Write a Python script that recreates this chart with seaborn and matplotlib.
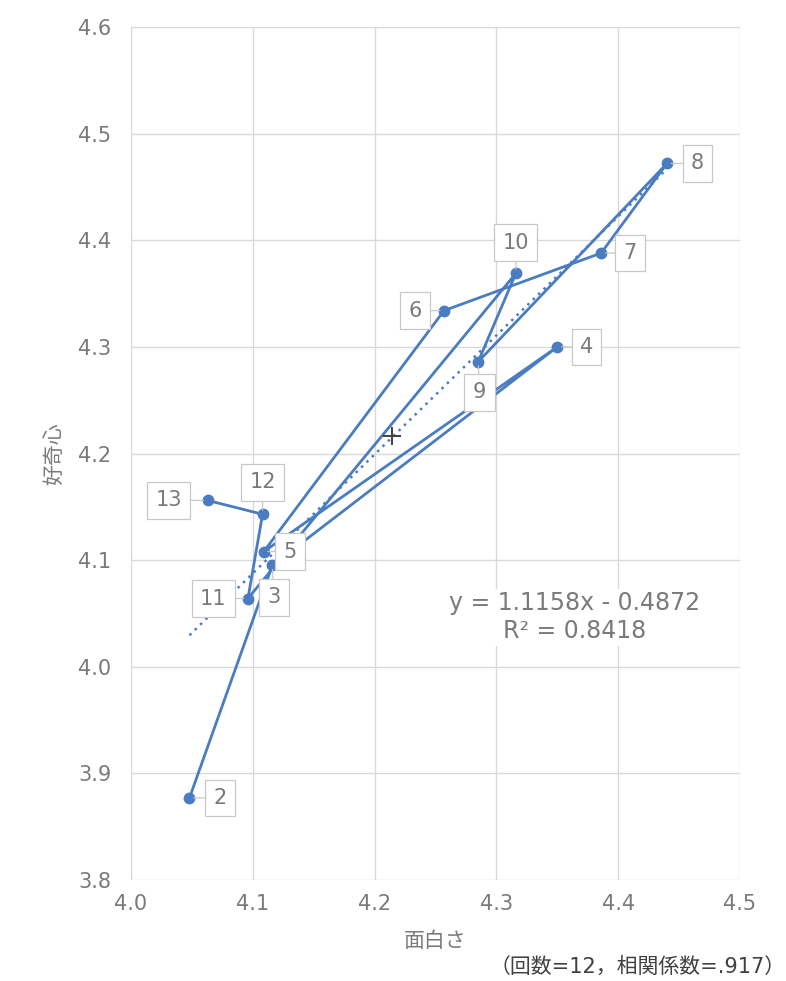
import seaborn as sns
import pandas as pd
import numpy as np
import matplotlib.pyplot as plt

# session number, 面白さ (x), 好奇心 (y), in plotting order
sessions = [2, 3, 4, 5, 6, 7, 8, 9, 10, 11, 12, 13]
omoshirosa = [4.048, 4.116, 4.350, 4.109, 4.257, 4.386, 4.440, 4.285, 4.316, 4.096, 4.108, 4.063]
koukishin = [3.877, 4.095, 4.300, 4.108, 4.334, 4.388, 4.472, 4.286, 4.369, 4.064, 4.143, 4.156]

# label offsets (points) for the callouts
label_offsets = {2: (22, 0), 3: (1, -23), 4: (21, 0), 5: (19, 0), 6: (-21, 0), 7: (21, 0),
                 8: (22, 0), 9: (1, -22), 10: (0, 22), 11: (-25, 0), 12: (0, 23), 13: (-28, 0)}

slope = 1.1158
intercept = -0.4872
r2 = 0.8418

blue = "#4a7cc1"
grey_text = "#7a7a7a"

sns.set_style("whitegrid", {"grid.color": "#d9d9d9"})
plt.rcParams['font.family'] = ['DejaVu Sans', 'Noto Sans CJK JP']

df = pd.DataFrame({"session": sessions, "x": omoshirosa, "y": koukishin})

fig = plt.figure(figsize=(7.86, 9.81), dpi=100)
ax = fig.add_axes([131 / 786, 1 - 880 / 981, (740 - 131) / 786, (880 - 27) / 981])

sns.lineplot(data=df, x="x", y="y", sort=False, estimator=None, color=blue, lw=2.0,
             marker="o", markersize=8.5, markeredgewidth=0, ax=ax, zorder=3)

# linear trendline (dotted) over the data range
xs = np.linspace(df["x"].min(), df["x"].max(), 50)
ax.plot(xs, slope * xs + intercept, ls=(0, (1, 2)), color=blue, lw=1.8, zorder=2)

# mean marker
means = pd.DataFrame({"x": [df["x"].mean()], "y": [df["y"].mean()]})
sns.scatterplot(data=means, x="x", y="y", marker="+", s=180, color="#404040",
                linewidth=1.4, ax=ax, zorder=4)

for s, x, y in zip(sessions, omoshirosa, koukishin):
    dx, dy = label_offsets[s]
    ax.annotate(str(s), (x, y), xytext=(dx, dy), textcoords="offset points",
                ha="center", va="center", fontsize=15, color=grey_text,
                bbox=dict(boxstyle="square,pad=0.4", fc="white", ec="#c8c8c8", lw=0.9),
                arrowprops=dict(arrowstyle="-", color="#c8c8c8", lw=0.9, shrinkA=0, shrinkB=3),
                zorder=5)

ax.text(4.364, 4.022, f"y = {slope:.4f}x - {abs(intercept):.4f}\nR² = {r2:.4f}",
        ha="center", va="bottom", fontsize=17, color=grey_text, linespacing=1.2,
        bbox=dict(boxstyle="square,pad=0.1", fc="white", ec="none"), zorder=1.5)

ax.set_xlim(4.0, 4.5)
ax.set_ylim(3.8, 4.6)
ax.set_xticks(np.arange(4.0, 4.51, 0.1))
ax.set_yticks(np.arange(3.8, 4.61, 0.1))
ax.set_xticklabels([f"{v:.1f}" for v in np.arange(4.0, 4.51, 0.1)])
ax.set_yticklabels([f"{v:.1f}" for v in np.arange(3.8, 4.61, 0.1)])
ax.tick_params(axis="both", labelsize=15, colors=grey_text, length=0)
ax.tick_params(axis="x", pad=10)
ax.tick_params(axis="y", pad=14)
for sp in ax.spines.values():
    sp.set_visible(False)
ax.grid(True, color="#d9d9d9", lw=1.0)

ax.set_xlabel("面白さ", fontsize=15, color=grey_text, labelpad=12)
ax.set_ylabel("好奇心", fontsize=15, color=grey_text, labelpad=10)

fig.text(0.999, 0.004, "（回数=12，相関係数=.917）", ha="right", va="bottom",
         fontsize=15, color="#404040")

fig.savefig("out.png", dpi=100)
